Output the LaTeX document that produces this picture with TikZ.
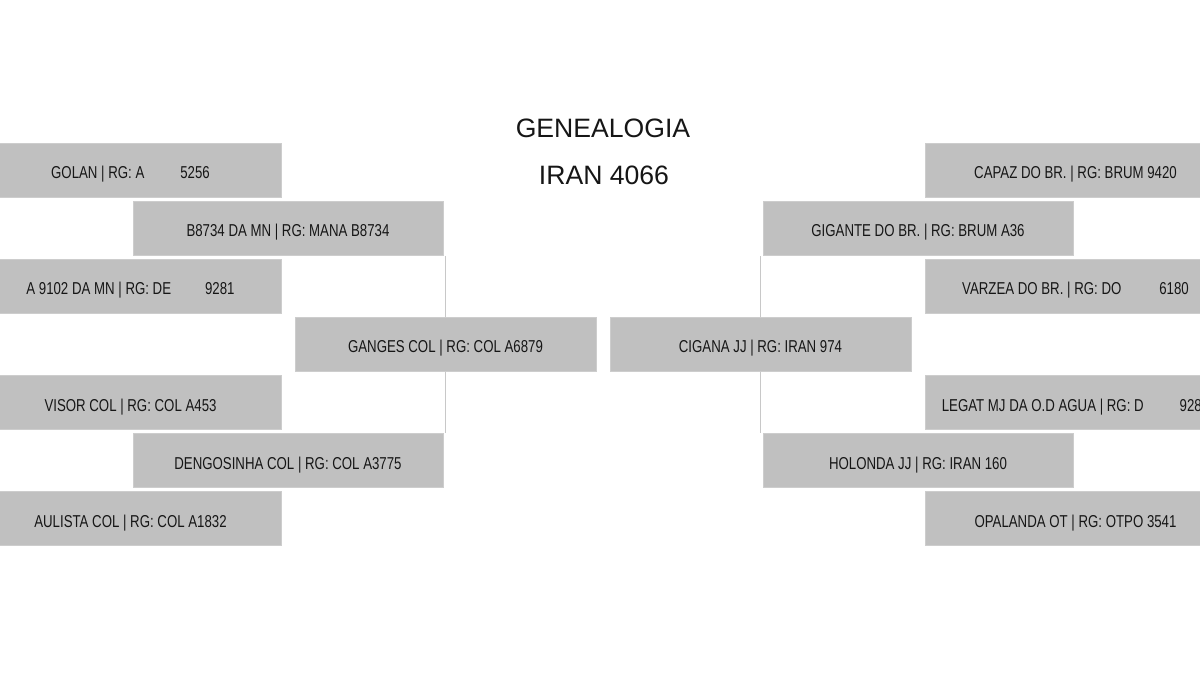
\documentclass[tikz,border=0pt]{standalone}
\usepackage{fontspec}
\setmainfont{Liberation Sans}
\newfontfamily\boxfont[FakeStretch=0.77]{Liberation Sans}
\definecolor{boxfill}{RGB}{192,192,192}
\definecolor{boxedge}{RGB}{205,205,205}
\definecolor{linkcol}{RGB}{200,200,200}
\definecolor{txt}{RGB}{22,22,22}
\begin{document}
\begin{tikzpicture}[x=0.5pt,y=-0.5pt,
  pbox/.style={draw=boxedge,line width=0.4pt,fill=boxfill,minimum height=27pt,inner sep=0pt,
    text height=8.5pt,text depth=0pt,
    text=txt,font=\boxfont\fontsize{8.6pt}{10pt}\selectfont},
  wbox/.style={pbox,minimum width=150.5pt},
  vbox/.style={pbox,minimum width=155pt},
  link/.style={draw=linkcol,line width=0.7pt},
  title/.style={text=txt,font=\fontsize{13.3pt}{16pt}\selectfont,inner sep=0pt}]
\useasboundingbox (0,0) rectangle (1200,700);
\clip (0,0) rectangle (1200,700);
% title
\node[title,anchor=base] (t1) at (603,138) {GENEALOGIA};
\node[title,anchor=base] (t2) at (604,185) {IRAN 4066};
% left side
\node[wbox] (golan) at (130.5,170.5) {GOLAN | RG: A\hspace{18pt}5256};
\node[vbox] (b8734) at (288,228.5) {B8734 DA MN | RG: MANA B8734};
\node[wbox] (a9102) at (130.5,286.5) {A 9102 DA MN | RG: DE\hspace{17pt}9281};
\node[wbox] (ganges) at (445.5,344.5) {GANGES COL | RG: COL A6879};
\node[wbox] (visor) at (130.5,402.5) {VISOR COL | RG: COL A453};
\node[vbox] (dengo) at (288,460.5) {DENGOSINHA COL | RG: COL A3775};
\node[wbox] (aulista) at (130.5,518.5) {AULISTA COL | RG: COL A1832};
% right side
\node[wbox] (capaz) at (1075.5,170.5) {CAPAZ DO BR. | RG: BRUM 9420};
\node[vbox] (gigante) at (918,228.5) {GIGANTE DO BR. | RG: BRUM A36};
\node[wbox] (varzea) at (1075.5,286.5) {VARZEA DO BR. | RG: DO\hspace{19pt}6180};
\node[wbox] (cigana) at (760.5,344.5) {CIGANA JJ | RG: IRAN 974};
\node[wbox] (legat) at (1075.5,402.5) {LEGAT MJ DA O.D AGUA | RG: D\hspace{18pt}928\phantom{1}};
\node[vbox] (holonda) at (918,460.5) {HOLONDA JJ | RG: IRAN 160};
\node[wbox] (opalanda) at (1075.5,518.5) {OPALANDA OT | RG: OTPO 3541};
% connectors
\draw[link] (ganges.north) -- (ganges.north |- b8734.south);
\draw[link] (ganges.south) -- (ganges.south |- dengo.north);
\draw[link] (cigana.north) -- (cigana.north |- gigante.south);
\draw[link] (cigana.south) -- (cigana.south |- holonda.north);
\end{tikzpicture}
\end{document}
